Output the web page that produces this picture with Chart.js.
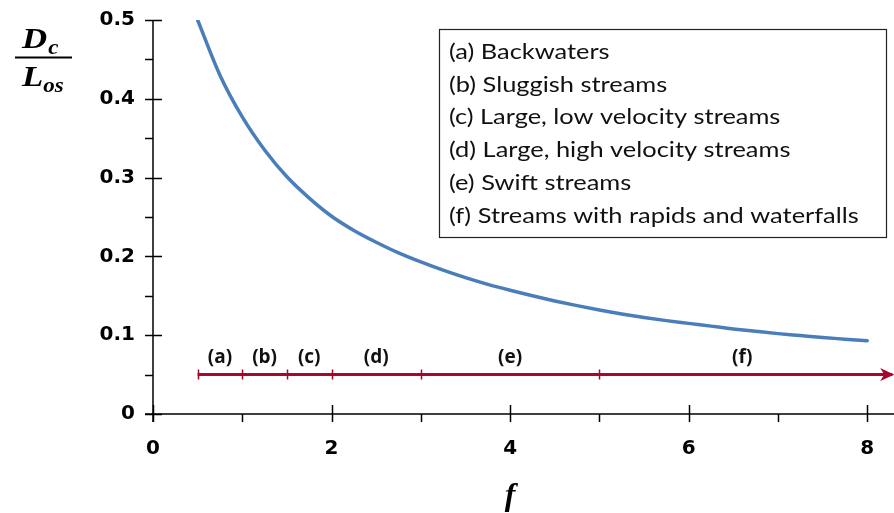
<!DOCTYPE html>
<html>
<head>
<meta charset="utf-8">
<script src="https://cdn.jsdelivr.net/npm/chart.js@4.4.1/dist/chart.umd.min.js"></script>
<style>
  html, body { margin: 0; padding: 0; background: #fff; }
  #wrap { width: 894px; height: 513px; }
</style>
</head>
<body>
<div id="wrap"><canvas id="chart" width="894" height="513"></canvas></div>
<script>
// Relative distance D_c / L_os as a function of f
const fValues     = [0.5, 0.75, 1.0, 1.25, 1.5, 1.75, 2.0, 2.25, 2.5, 2.75, 3.0, 3.25, 3.5, 3.75, 4.0, 4.25,
                     4.5, 4.75, 5.0, 5.25, 5.5, 5.75, 6.0, 6.25, 6.5, 6.75, 7.0, 7.25, 7.5, 7.75, 8.0];
const ratioValues = [0.500, 0.430, 0.377, 0.335, 0.301, 0.274, 0.251, 0.233, 0.218, 0.2045, 0.193, 0.1825, 0.173, 0.1645, 0.157, 0.150,
                     0.1435, 0.1375, 0.132, 0.127, 0.1225, 0.1185, 0.115, 0.1115, 0.108, 0.105, 0.102, 0.0995, 0.097, 0.095, 0.093];

// Stream classes marked along the f axis
const classBounds   = [0.5, 1, 1.5, 2, 3, 5];
const classLabels   = ['(a)', '(b)', '(c)', '(d)', '(e)', '(f)'];
const classCenters  = [0.75, 1.25, 1.75, 2.5, 4, 6.6];
const classLevel    = 0.05;
const classLabelLvl = 0.071;
const classArrowEnd = 8.28;

const legendLines = [
  '(a) Backwaters',
  '(b) Sluggish streams',
  '(c) Large, low velocity streams',
  '(d) Large, high velocity streams',
  '(e) Swift streams',
  '(f) Streams with rapids and waterfalls'
];

// Axis ticks
const xMajorTicks = [0, 2, 4, 6, 8];
const xMinorTicks = [1, 3, 5, 7];
const yMajorTicks = [0, 0.1, 0.2, 0.3, 0.4, 0.5];
const yMinorTicks = [0.05, 0.15, 0.25, 0.35, 0.45];

const CURVE_COLOR = '#4A7EBB';
const CLASS_COLOR = '#A8062B';
const TICK_FONT = { family: '"DejaVu Sans", sans-serif', size: 20, weight: 'bold' };
const SERIF = '"Liberation Serif", "Times New Roman", serif';

const curvePoints = fValues.map((f, i) => ({ x: f, y: ratioValues[i] }));
const classLine = [
  { x: classBounds[0], y: classLevel },
  { x: classArrowEnd, y: classLevel }
];

// text stretched horizontally (wide lettering)
function wideText(ctx, text, x, y, sx) {
  ctx.save();
  ctx.translate(x, y);
  ctx.scale(sx, 1);
  ctx.fillText(text, 0, 0);
  ctx.restore();
}

const decorations = {
  id: 'decorations',
  afterDatasetsDraw(chart) {
    const { ctx, chartArea: ca, scales: { x, y } } = chart;
    ctx.save();

    const x0 = x.getPixelForValue(0);
    const y0 = y.getPixelForValue(0);

    // axis lines
    ctx.strokeStyle = '#000';
    ctx.lineWidth = 1.5;
    ctx.beginPath();
    ctx.moveTo(x0, y.getPixelForValue(0.5));
    ctx.lineTo(x0, y0 + 8);
    ctx.moveTo(x0 - 8, y0);
    ctx.lineTo(ca.right, y0);
    ctx.stroke();

    // ticks: major ones cross the axis, minor ones sit outside
    ctx.beginPath();
    yMajorTicks.forEach(v => {
      const py = Math.round(y.getPixelForValue(v)) + 0.5;
      ctx.moveTo(x0 - 8, py); ctx.lineTo(x0 + 9, py);
    });
    yMinorTicks.forEach(v => {
      const py = Math.round(y.getPixelForValue(v)) + 0.5;
      ctx.moveTo(x0 - 8, py); ctx.lineTo(x0, py);
    });
    xMajorTicks.forEach(v => {
      const px = Math.round(x.getPixelForValue(v)) + 0.5;
      ctx.moveTo(px, y0 - 9); ctx.lineTo(px, y0 + 8);
    });
    xMinorTicks.forEach(v => {
      const px = Math.round(x.getPixelForValue(v)) + 0.5;
      ctx.moveTo(px, y0); ctx.lineTo(px, y0 + 8);
    });
    ctx.stroke();

    // class boundaries on the red line
    const cy = y.getPixelForValue(classLevel);
    ctx.strokeStyle = CLASS_COLOR;
    ctx.lineWidth = 1.5;
    ctx.beginPath();
    classBounds.forEach(v => {
      const px = Math.round(x.getPixelForValue(v)) + 0.5;
      ctx.moveTo(px, cy - 5); ctx.lineTo(px, cy + 5);
    });
    ctx.stroke();

    // arrow head
    const tx = x.getPixelForValue(classArrowEnd) + 2;
    ctx.fillStyle = CLASS_COLOR;
    ctx.beginPath();
    ctx.moveTo(tx, cy);
    ctx.lineTo(tx - 14, cy - 6.5);
    ctx.lineTo(tx - 10, cy);
    ctx.lineTo(tx - 14, cy + 6.5);
    ctx.closePath();
    ctx.fill();

    // class labels
    ctx.fillStyle = '#111';
    ctx.font = 'bold 19px "Open Sans", sans-serif';
    ctx.textAlign = 'center';
    ctx.textBaseline = 'middle';
    classLabels.forEach((t, i) => {
      ctx.fillText(t, x.getPixelForValue(classCenters[i]), y.getPixelForValue(classLabelLvl));
    });

    // legend box
    const bx = 439.5, by = 29.5, bw = 447, bh = 208;
    ctx.fillStyle = '#fff';
    ctx.fillRect(bx, by, bw, bh);
    ctx.strokeStyle = '#222';
    ctx.lineWidth = 1.2;
    ctx.strokeRect(bx, by, bw, bh);
    ctx.fillStyle = '#111';
    ctx.font = '21px Lato, "Open Sans", sans-serif';
    ctx.textAlign = 'left';
    ctx.textBaseline = 'middle';
    legendLines.forEach((t, i) => {
      wideText(ctx, t, 449, 52 + i * 32.8, 1.21);
    });

    // y-axis title as a fraction D_c / L_os
    ctx.fillStyle = '#000';
    ctx.strokeStyle = '#000';
    ctx.textBaseline = 'alphabetic';
    ctx.textAlign = 'left';
    ctx.font = 'italic bold 29px ' + SERIF;
    const dW = ctx.measureText('D').width;
    const lW = ctx.measureText('L').width;
    wideText(ctx, 'D', 22, 48, 1.2);
    wideText(ctx, 'L', 22, 86, 1.2);
    ctx.font = 'italic bold 20px ' + SERIF;
    wideText(ctx, 'c', 22 + dW * 1.2 + 1, 54, 1.15);
    wideText(ctx, 'os', 22 + lW * 1.2, 92, 1.15);
    ctx.lineWidth = 2;
    ctx.beginPath();
    ctx.moveTo(15, 57.5); ctx.lineTo(72, 57.5);
    ctx.stroke();

    // x-axis title
    ctx.font = 'italic bold 32px ' + SERIF;
    ctx.textAlign = 'center';
    ctx.fillText('f', x.getPixelForValue(4), 505);

    ctx.restore();
  }
};

new Chart(document.getElementById('chart'), {
  type: 'line',
  data: {
    datasets: [
      {
        data: curvePoints,
        borderColor: CURVE_COLOR,
        borderWidth: 3.5,
        pointRadius: 0,
        cubicInterpolationMode: 'monotone',
        borderCapStyle: 'round'
      },
      {
        data: classLine,
        borderColor: CLASS_COLOR,
        borderWidth: 3,
        pointRadius: 0
      }
    ]
  },
  options: {
    responsive: false,
    animation: false,
    layout: { padding: { left: 0, right: 0, top: 20, bottom: 0 } },
    plugins: { legend: { display: false }, tooltip: { enabled: false } },
    scales: {
      x: {
        type: 'linear',
        min: 0,
        max: 8.3,
        afterFit(s) { s.height = 99; s.paddingLeft = 0; s.paddingRight = 0; },
        afterBuildTicks(s) { s.ticks = xMajorTicks.map(v => ({ value: v })); },
        grid: { display: false, drawTicks: false },
        border: { display: false },
        ticks: { font: TICK_FONT, color: '#000', padding: 23, maxRotation: 0, callback: v => String(v) }
      },
      y: {
        type: 'linear',
        min: 0,
        max: 0.5,
        afterFit(s) { s.width = 153; s.paddingTop = 0; s.paddingBottom = 0; },
        afterBuildTicks(s) { s.ticks = yMajorTicks.map(v => ({ value: v })); },
        grid: { display: false, drawTicks: false },
        border: { display: false },
        ticks: { font: TICK_FONT, color: '#000', padding: 18, callback: v => (v === 0 ? '0' : v.toFixed(1)) }
      }
    }
  },
  plugins: [decorations]
});
</script>
</body>
</html>
